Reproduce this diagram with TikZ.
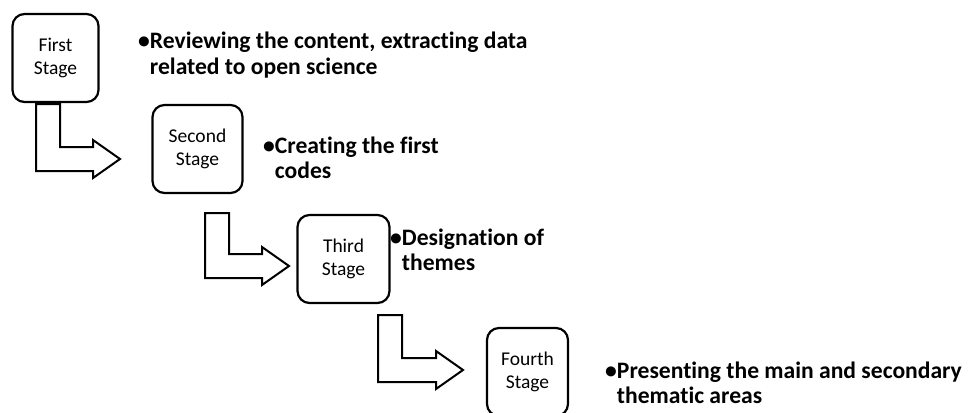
\documentclass[tikz,border=0pt]{standalone}
\usepackage{fontspec}
\setmainfont{Carlito}[Ligatures={NoCommon}]
\usetikzlibrary{calc}

% L-shaped block arrow: left x, top y, middle y of the foot, tip x
\newcommand{\stagearrow}[4]{%
  \draw[blk] (#1,#2) -- ({#1+24},#2) -- ({#1+24},{#3-12}) -- ({#4-27},{#3-12})
    -- ({#4-27},{#3-19}) -- (#4,#3) -- ({#4-27},{#3+19}) -- ({#4-27},{#3+12})
    -- (#1,{#3+12}) -- cycle;}

\begin{document}
\begin{tikzpicture}[
  x=1pt, y=-1pt,
  stage/.style={draw, line width=2.2pt, rounded corners=12pt, minimum height=88pt,
    align=center, inner sep=0pt, font=\fontsize{19.5}{22.5}\selectfont},
  note/.style={anchor=west, align=left, inner sep=0pt,
    font=\bfseries\fontsize{23.6}{25.5}\selectfont},
  blk/.style={line width=2pt, line join=miter}
]
\clip (0,0) rectangle (971,412);

% the four stages
\node[stage, minimum width=86pt] (s1) at (55.5,58) {First\\Stage};
\node[stage, minimum width=90pt] (s2) at (197.5,149) {Second\\Stage};
\node[stage, minimum width=92pt] (s3) at (343.5,259) {Third\\Stage};
\node[stage, minimum width=81pt] (s4) at (527.5,372) {Fourth\\Stage};

% what happens in each stage
\node[note] (n1) at (138,55) {\textbullet Reviewing the content, extracting data\\\phantom{\textbullet}related to open science};
\node[note] (n2) at (263,158) {\textbullet Creating the first\\\phantom{\textbullet}codes};
\node[note] (n3) at (390,250) {\textbullet Designation of\\\phantom{\textbullet}themes};
\node[note] (n4) at (605,383) {\textbullet Presenting the main and secondary\\\phantom{\textbullet}thematic areas};

% block arrows between stages
\stagearrow{36}{104}{159}{120}
\stagearrow{205}{213}{266}{289}
\stagearrow{378}{315}{370}{463}

\end{tikzpicture}
\end{document}
